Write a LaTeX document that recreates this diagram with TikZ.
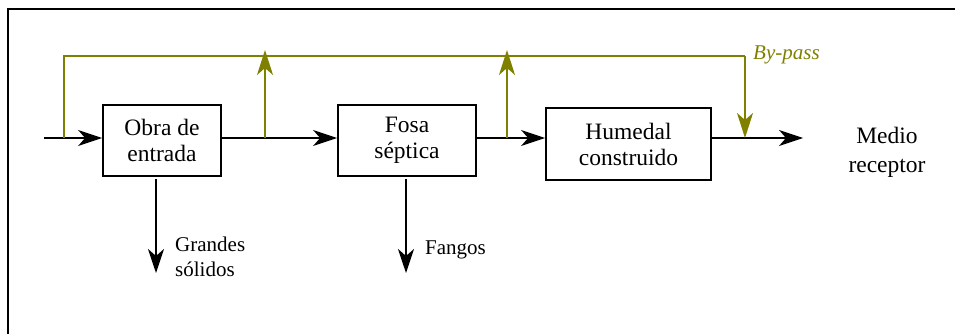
\documentclass[tikz,border=0pt]{standalone}
\usepackage{fontspec}
\setmainfont{Liberation Serif}
\usetikzlibrary{arrows.meta}
\definecolor{bypass}{rgb}{0.5,0.5,0}
\tikzset{
  boxnode/.style={draw, line width=1.8pt, inner sep=0pt, align=center, font=\fontsize{23.5}{26}\selectfont},
  arr/.style={line width=1.6pt, -{Stealth[length=24pt,width=16pt,inset=7pt]}},
  gline/.style={draw=bypass, line width=1.8pt},
  garr/.style={draw=bypass, line width=1.8pt, -{Stealth[length=25pt,width=16pt,inset=7pt,fill=bypass]}},
  small/.style={font=\fontsize{21}{25}\selectfont, inner sep=0pt},
  big/.style={font=\fontsize{23.5}{29}\selectfont, inner sep=0pt, align=center},
  frame/.style={line width=2pt}
}
\begin{document}
\begin{tikzpicture}[x=1pt,y=-1pt]
\useasboundingbox (0,0) rectangle (955,334);
% frame
\coordinate (fL) at (7.5,334);
\coordinate (fC) at (7.5,9.5);
\coordinate (fR) at (956,9.5);
\draw[frame] (fL) -- (fC) -- (fR);
% boxes
\node[boxnode, minimum width=118pt, minimum height=71pt] (b1) at (162,140.5) {Obra de\\entrada};
\node[boxnode, minimum width=138pt, minimum height=71pt] (b2) at (407,140.5) {Fosa\\séptica};
\node[boxnode, minimum width=165pt, minimum height=72pt] (b3) at (628.5,144) {Humedal\\construido};
% coordinates on the main line
\coordinate (in) at (44,138);
\coordinate (J0) at (64,138);
\coordinate (J1) at (265,138);
\coordinate (J2) at (507,138);
\coordinate (J3) at (745,138);
\coordinate (out) at (803,138);
\coordinate (top) at (64,56);
\coordinate (d1) at (156,273);
\coordinate (d2) at (406,273);
% main flow
\draw[arr] (in) -- (in -| b1.west);
\draw[arr] (b1.east |- in) -- (b2.west |- in);
\draw[arr] (b2.east |- in) -- (b3.west |- in);
\draw[arr] (b3.east |- in) -- (out);
% outputs
\draw[arr] (b1.south -| d1) ++(0,2) -- (d1);
\draw[arr] (b2.south -| d2) ++(0,2) -- (d2);
% by-pass
\draw[gline] (J0) -- (top) -- (top -| J3);
\draw[garr] (top -| J3) -- (J3);
\draw[garr] (J1) -- ([yshift=6pt]top -| J1);
\draw[garr] (J2) -- ([yshift=6pt]top -| J2);
% labels
\node[small, text=bypass, anchor=west] (bp) at (753,55) {\itshape By-pass};
\node[small, anchor=west, align=left] (gs) at (175,257) {Grandes\\sólidos};
\node[small, anchor=west] (fg) at (425,250) {Fangos};
\node[big] (mr) at (887,152) {Medio\\receptor};
\end{tikzpicture}
\end{document}
